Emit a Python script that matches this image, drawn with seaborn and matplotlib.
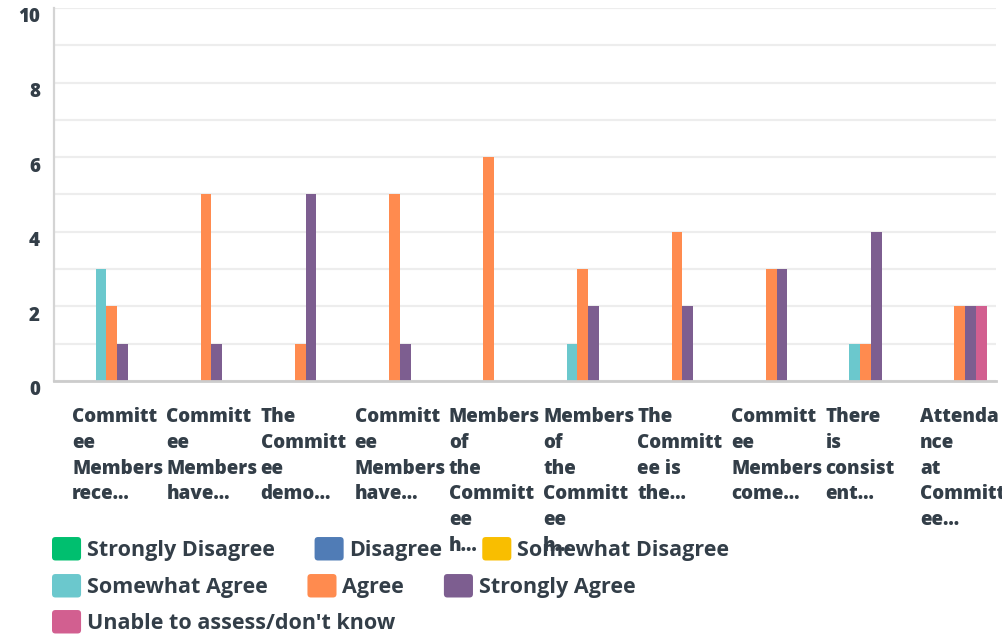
import numpy as np
import pandas as pd
import matplotlib
matplotlib.use('Agg')
import matplotlib.pyplot as plt
import matplotlib.transforms as mtransforms
from matplotlib.patches import Patch, FancyBboxPatch
from matplotlib.legend_handler import HandlerPatch
import seaborn as sns

# survey data (counts per answer for each question)
questions = ['Q1', 'Q2', 'Q3', 'Q4', 'Q5', 'Q6', 'Q7', 'Q8', 'Q9', 'Q10']
question_labels = [
    'Committ\nee\nMembers\nrece...',
    'Committ\nee\nMembers\nhave...',
    'The\nCommitt\nee\ndemo...',
    'Committ\nee\nMembers\nhave...',
    'Members\nof\nthe\nCommitt\nee\nh...',
    'Members\nof\nthe\nCommitt\nee\nh...',
    'The\nCommitt\nee is\nthe...',
    'Committ\nee\nMembers\ncome...',
    'There\nis\nconsist\nent...',
    'Attenda\nnce\nat\nCommitt\nee...',
]
responses = ['Strongly Disagree', 'Disagree', 'Somewhat Disagree', 'Somewhat Agree',
             'Agree', 'Strongly Agree', 'Unable to assess/don\'t know']
strongly_disagree = [0, 0, 0, 0, 0, 0, 0, 0, 0, 0]
disagree = [0, 0, 0, 0, 0, 0, 0, 0, 0, 0]
somewhat_disagree = [0, 0, 0, 0, 0, 0, 0, 0, 0, 0]
somewhat_agree = [3, 0, 0, 0, 0, 1, 0, 0, 1, 0]
agree = [2, 5, 1, 5, 6, 3, 4, 3, 1, 2]
strongly_agree = [1, 1, 5, 1, 0, 2, 2, 3, 4, 2]
unable = [0, 0, 0, 0, 0, 0, 0, 0, 0, 2]
colors = ['#00BF6F', '#507CB6', '#F9BE00', '#6BC8CD', '#FF8B4F', '#7D5E90', '#D25F90']
yticks = [0, 2, 4, 6, 8, 10]

legend_rows = [[0, 1, 2], [3, 4, 5], [6]]

wide = pd.DataFrame({
    'question': questions,
    responses[0]: strongly_disagree,
    responses[1]: disagree,
    responses[2]: somewhat_disagree,
    responses[3]: somewhat_agree,
    responses[4]: agree,
    responses[5]: strongly_agree,
    responses[6]: unable,
})
df = wide.melt(id_vars='question', var_name='response', value_name='count')

text_color = '#333e48'
sns.set_style('white')
plt.rcParams['font.family'] = ['Open Sans', 'DejaVu Sans']

fig = plt.figure(figsize=(10.03, 6.38), dpi=100)
W, H = 1003, 638
ax = fig.add_axes([54 / W, 1 - 381 / H, (996 - 54) / W, (381 - 8) / H])

sns.barplot(data=df, x='question', y='count', hue='response', order=questions,
            hue_order=responses, palette=colors, saturation=1, width=0.8,
            legend=False, ax=ax, linewidth=0, errorbar=None)

ax.set_ylim(0, 10)
ax.set_xlim(-0.5, len(questions) - 0.5)
ax.set_yticks(yticks)
ax.set_yticks([1, 3, 5, 7, 9], minor=True)
ax.grid(True, axis='y', which='both', color='#ededed', linewidth=1.6)
ax.set_axisbelow(True)
ax.set_xlabel('')
ax.set_ylabel('')
for side in ['top', 'right']:
    ax.spines[side].set_visible(False)
ax.spines['left'].set_color('#d4d4d4')
ax.spines['left'].set_linewidth(1.6)
ax.spines['bottom'].set_color('#cccccc')
ax.spines['bottom'].set_linewidth(2)
ax.tick_params(axis='both', which='both', length=0)
ax.tick_params(axis='y', pad=10)
ax.tick_params(axis='x', pad=19)

for lab in ax.get_yticklabels():
    lab.set_fontsize(13.5)
    lab.set_fontweight('heavy')
    lab.set_color(text_color)
    lab.set_transform(lab.get_transform() +
                      mtransforms.ScaledTranslation(0, -0.07, fig.dpi_scale_trans))

ax.set_xticks(range(len(questions)))
ax.set_xticklabels(question_labels, ha='left', multialignment='left',
                   fontsize=13.5, fontweight='heavy', color=text_color, linespacing=1.38)
for lab in ax.get_xticklabels():
    lab.set_transform(lab.get_transform() +
                      mtransforms.ScaledTranslation(-0.29, 0, fig.dpi_scale_trans))


class RoundHandler(HandlerPatch):
    def create_artists(self, legend, orig_handle, xdescent, ydescent, width, height,
                       fontsize, trans):
        p = FancyBboxPatch((-xdescent, -ydescent), width, height,
                           boxstyle='round,pad=0,rounding_size=2.5',
                           facecolor=orig_handle.get_facecolor(), edgecolor='none',
                           transform=trans)
        return [p]


leg_fs = 15.5
row_y = [549, 586, 622]
for r, idx in enumerate(legend_rows):
    handles = [Patch(facecolor=colors[i], edgecolor='none') for i in idx]
    labels = [responses[i] for i in idx]
    leg = fig.legend(handles, labels, loc='center left',
                     bbox_to_anchor=(52 / W, 1 - row_y[r] / H), ncol=len(idx),
                     frameon=False, borderpad=0, borderaxespad=0,
                     handlelength=1.35, handleheight=1.3, handletextpad=0.27,
                     columnspacing=1.85,
                     prop={'family': 'Open Sans', 'size': leg_fs, 'weight': 'bold'},
                     handler_map={Patch: RoundHandler()})
    for t in leg.get_texts():
        t.set_color(text_color)

plt.savefig('out.png', dpi=100)
